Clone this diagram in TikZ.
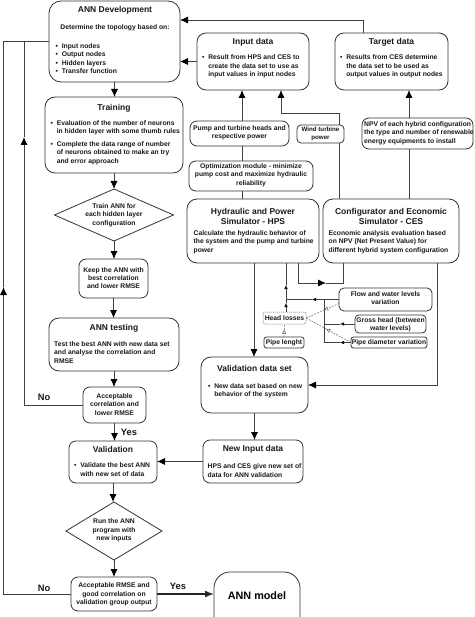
\documentclass[tikz,border=0pt]{standalone}
\usepackage{fontspec}
\setmainfont{Liberation Sans}
\usetikzlibrary{shapes.geometric,arrows.meta,calc}
\newcommand\fsz[2]{\fontsize{#1}{#2}\selectfont\bfseries}
\newcommand\mkbox[6]{\node[#6, minimum width={#4-#2}, minimum height={#5-#3}] (#1) at ({(#2+#4)/2},{(#3+#5)/2}) {};}
\begin{document}
\begin{tikzpicture}[x=1pt,y=-1pt,
 box/.style={draw=black!80, line width=0.8pt, rounded corners=7pt, inner sep=0, outer sep=0},
 sbox/.style={box, rounded corners=4pt},
 hbox/.style={draw=black!55, line width=0.5pt, dash pattern=on 1.2pt off 0.8pt, rounded corners=2pt, inner sep=0, outer sep=0},
 dia/.style={diamond, draw=black!80, line width=0.8pt, inner sep=0, outer sep=0},
 body/.style={font=\fsz{6.75}{8.4}, inner sep=0, align=center, text=black!90},
 bodyl/.style={body, align=left, anchor=west},
 ttl/.style={font=\fsz{8.5}{10}, inner sep=0, align=center, text=black!90},
 lbl/.style={font=\fsz{9.3}{11}, inner sep=0, text=black!90},
 ln/.style={draw=black!75, line width=0.8pt},
 sln/.style={draw=black!75, line width=0.6pt},
 arr/.style={ln, -{Latex[length=8pt,width=7pt,color=black]}},
 sarr/.style={sln, -{Latex[length=4pt,width=3.6pt,color=black]}},
 dl/.style={draw=black!60, line width=0.5pt, dash pattern=on 1.8pt off 1.2pt},
 dla/.style={dl, -{Triangle[open,length=4pt,width=4pt,line width=0.5pt]}}
]
\useasboundingbox (0,0) rectangle (474,617);
\clip (0,0) rectangle (474,617);
\fill[white] (0,0) rectangle (474,617);

% coordinates
\coordinate (x3) at (3.5,0);
\coordinate (x24) at (24,0);
\coordinate (x242) at (242,0);
\coordinate (x254) at (254,0);
\coordinate (x281) at (281,0);
\coordinate (x286) at (286,0);
\coordinate (x298) at (298,0);
\coordinate (x312) at (312,0);
\coordinate (x326) at (326,0);
\coordinate (x324) at (324,0);
\coordinate (x339) at (339,0);
\coordinate (x340) at (340,0);
\coordinate (x343) at (343,0);
\coordinate (x363) at (363,0);
\coordinate (x409) at (409,0);
\coordinate (x437) at (437,0);
\coordinate (y20) at (0,20);
\coordinate (y113) at (0,113);
\coordinate (y137) at (0,137);
\coordinate (y283) at (0,283);
\coordinate (y285) at (0,285);
\coordinate (y287) at (0,287);
\coordinate (y303) at (0,303);
\coordinate (y385) at (0,385);

% left column boxes
\mkbox{ann}{49}{1}{180}{82}{box, rounded corners=12pt}
\mkbox{train}{45}{97}{183}{173}{box, rounded corners=10pt}
\node[dia, minimum width=119pt, minimum height=52pt] (d1) at (114,215) {};
\mkbox{keep}{79}{259}{148}{298}{box}
\mkbox{test}{49}{318}{179}{371}{box, rounded corners=10pt}
\mkbox{acc1}{83}{387}{146}{423}{box}
\mkbox{val}{69}{441}{157}{483}{box}
\node[dia, minimum width=96pt, minimum height=58pt] (d2) at (114,531) {};
\mkbox{acc2}{71}{577}{157}{611}{box}
\mkbox{model}{214}{572}{300}{632}{box, rounded corners=16pt}

% right side boxes
\mkbox{inp}{197}{33}{309}{90}{box, rounded corners=9pt}
\mkbox{tgt}{335}{33}{448}{90}{box, rounded corners=9pt}
\mkbox{pump}{190}{121}{289}{146}{box}
\mkbox{wind}{297}{125}{344}{143}{sbox}
\mkbox{npv}{362}{118}{473}{149}{box}
\mkbox{opt}{189}{161}{313}{191}{box}
\mkbox{hps}{187}{199}{319}{263}{box, rounded corners=10pt}
\mkbox{ces}{323}{199}{459}{263}{box, rounded corners=10pt}
\mkbox{flow}{339}{288}{432}{311}{box, rounded corners=5pt}
\mkbox{gross}{355}{315}{426}{333}{sbox}
\mkbox{pdia}{351}{337}{427}{348}{sbox, rounded corners=2.5pt}
\mkbox{hl}{263}{312}{306}{324}{hbox}
\mkbox{plen}{264}{337}{304}{348}{sbox, rounded corners=2.5pt}
\mkbox{vds}{201}{357}{308}{413}{box, rounded corners=10pt}
\mkbox{newin}{203}{440}{303}{483}{box}

% texts
\node[ttl] (t-ann) at (115,10) {ANN Development};
\node[body] (t-ann2) at (115,28) {Determine the topology based on:};
\node[bodyl] (t-ann3) at (55.5,58.5) {\textbullet\ \ Input nodes\\ \textbullet\ \ Output nodes\\ \textbullet\ \ Hidden layers\\ \textbullet\ \ Transfer function};

\node[ttl] (t-train) at (114,108) {Training};
\node[bodyl] (t-train2) at (50.5,142.5) {\begin{tabular}{@{}l@{\ \ }l@{}}\textbullet & Evaluation of the number of neurons\\ & in hidden layer with some thumb rules\\[4.5pt] \textbullet & Complete the data range of number\\ & of neurons obtained to make an try\\ & and error approach\end{tabular}};

\node[body] (t-d1) at (114,215) {Train ANN for\\each hidden layer\\configuration};
\node[body] (t-keep) at (113.5,278) {Keep the ANN with\\best correlation\\and lower RMSE};
\node[ttl] (t-test) at (114,328) {ANN testing};
\node[bodyl] (t-test2) at (54,352.5) {Test the best ANN with new data set\\and analyse the correlation and\\RMSE};
\node[body] (t-acc1) at (114.5,404.5) {Acceptable\\correlation and\\lower RMSE};
\node[ttl] (t-val) at (113,449) {Validation};
\node[bodyl] (t-val2) at (74,470.5) {\begin{tabular}{@{}l@{\ \ }l@{}}\textbullet & Validate the best ANN\\ & with new set of data\end{tabular}};
\node[body] (t-d2) at (114,530.5) {Run the ANN\\program with\\new inputs};
\node[body] (t-acc2) at (114,594.5) {Acceptable RMSE and\\good correlation on\\validation group output};
\node[font=\fsz{10.8}{12}, inner sep=0] (t-model) at (257,596) {ANN model};
\node[lbl] (no1) at (44,397) {No};
\node[lbl] (no2) at (44,588) {No};
\node[lbl] (yes1) at (129,432) {Yes};
\node[lbl] (yes2) at (178,586) {Yes};

\node[ttl] (t-inp) at (253,42) {Input data};
\node[bodyl] (t-inp2) at (202,66.5) {\begin{tabular}{@{}l@{\ \ }l@{}}\textbullet & Result from HPS and CES to\\ & create the data set to use as\\ & input values in input nodes\end{tabular}};
\node[ttl] (t-tgt) at (391.5,42) {Target data};
\node[bodyl] (t-tgt2) at (340,66.5) {\begin{tabular}{@{}l@{\ \ }l@{}}\textbullet & Results from CES determine\\ & the data set to be used as\\ & output values in output nodes\end{tabular}};
\node[body] (t-pump) at (239.5,132.5) {Pump and turbine heads and\\respective power};
\node[body, font=\fsz{6.2}{8}] (t-wind) at (320.5,134) {Wind turbine\\power};
\node[bodyl] (t-npv) at (364,133) {NPV of each hybrid configuration\\the type and number of renewable\\energy equipments to install};
\node[body] (t-opt) at (251,175) {Optimization module - minimize\\pump cost and maximize hydraulic\\reliability};
\node[ttl] (t-hps) at (253,216) {Hydraulic and Power\\Simulator - HPS};
\node[bodyl] (t-hps2) at (193.5,242) {Calculate the hydraulic behavior of\\the system and the pump and turbine\\power};
\node[ttl] (t-ces) at (391,216) {Configurator and Economic\\Simulator - CES};
\node[bodyl] (t-ces2) at (328.5,242) {Economic analysis evaluation based\\on NPV (Net Present Value) for\\different hybrid system configuration};
\node[body] (t-flow) at (385.5,298) {Flow and water levels\\variation};
\node[body] (t-gross) at (390.5,324.5) {Gross head (between\\water levels)};
\node[body] (t-pdia) at (389,342.5) {Pipe diameter variation};
\node[body] (t-hl) at (284.5,318) {Head losses};
\node[body] (t-plen) at (284,342.5) {Pipe lenght};
\node[ttl] (t-vds) at (254.5,368) {Validation data set};
\node[bodyl] (t-vds2) at (208,391) {\begin{tabular}{@{}l@{\ \ }l@{}}\textbullet & New data set based on new\\ & behavior of the system\end{tabular}};
\node[ttl] (t-newin) at (253,449) {New Input data};
\node[bodyl] (t-newin2) at (207.5,470.5) {HPS and CES give new set of\\data for ANN validation};

% connectors: left column
\draw[arr] (ann.south) -- (ann.south |- train.north);
\draw[arr] (train.south) -- (d1.north);
\draw[arr] (d1.south) -- (d1.south |- keep.north);
\draw[arr] (keep.south) -- (keep.south |- test.north);
\draw[arr] (test.south) -- (test.south |- acc1.north);
\draw[arr] (acc1.south) -- (acc1.south |- val.north);
\draw[arr] (val.south) -- (val.south |- d2.north);
\draw[arr] (d2.south) -- (d2.south |- acc2.north);
\draw[draw=black!85, line width=1.5pt, -{Latex[length=9pt,width=7pt]}] (acc2.east) -- (acc2.east -| model.west);
\draw[arr] (acc1.west) -- (x24 |- acc1.west) -- (x24 |- y137);
\draw[ln] (x24 |- y137) -- (x24 |- ann.west) -- (ann.west);
\draw[arr] (acc2.west) -- (x3 |- acc2.west) -- (x3 |- y287);
\draw[ln] (x3 |- y287) -- (x3 |- ann.west) -- (ann.west);

% connectors: right side
\draw[arr] (inp.west) -- (inp.west -| ann.east);
\draw[arr] (tgt.north -| x363) -- (x363 |- y20) -- (y20 -| ann.east);
\draw[arr] (pump.north -| x242) -- (inp.south -| x242);
\draw[ln] (opt.north -| x242) -- (pump.south -| x242);
\draw[ln] (hps.north -| x242) -- (opt.south -| x242);
\draw[ln] (ces.north -| x339) -- (wind.south -| x339);
\draw[arr] (wind.north -| x339) -- (x339 |- y113) -- (x281 |- y113) -- (inp.south -| x281);
\draw[ln] (ces.north -| x409) -- (npv.south -| x409);
\draw[arr] (npv.north -| x409) -- (tgt.south -| x409);
\draw[arr] (hps.south -| x254) -- (vds.north -| x254);
\draw[arr] (hps.south -| x298) -- (x298 |- y283) -- (x326 |- y283);
\draw[ln] (x326 |- y283) -- (x343 |- y283) -- (ces.south -| x343);
\draw[arr] (ces.south -| x437) -- (x437 |- y385) -- (y385 -| vds.east);
\draw[arr] (vds.south) -- (vds.south |- newin.north);
\draw[arr] (newin.west) -- (newin.west -| val.east);

% head losses group
\draw[sarr] (hl.north -| x286) -- (x286 |- y303);
\draw[sarr] (x286 |- y303) -- (x286 |- y285);
\draw[sln] (x286 |- y285) -- (hps.south -| x286);
\draw[sarr] (flow.west) -- (x312 |- flow.west);
\draw[sln] (x312 |- flow.west) -- (x286 |- flow.west);
\draw[sarr] (gross.west) -- (x340 |- gross.west);
\draw[sln] (x340 |- gross.west) -- (x324 |- gross.west);
\draw[sarr] (pdia.west) -- (x340 |- pdia.west);
\draw[sln] (x340 |- pdia.west) -- (x324 |- pdia.west) -- (x324 |- flow.west);
\coordinate (m1) at ($([yshift=-4pt]flow.west)!0.45!(hl.east)$);
\coordinate (m2) at ($(pdia.west)!0.55!(hl.east)$);
\coordinate (m3) at ($(plen.north)!0.55!(hl.south)$);
\draw[dla] ([yshift=-4pt]flow.west) -- (m1);
\draw[dl] (m1) -- (hl.east);
\draw[dla] (pdia.west) -- (m2);
\draw[dl] (m2) -- (hl.east);
\draw[dla] (plen.north) -- (m3);
\draw[dl] (m3) -- (hl.south);
\end{tikzpicture}
\end{document}
